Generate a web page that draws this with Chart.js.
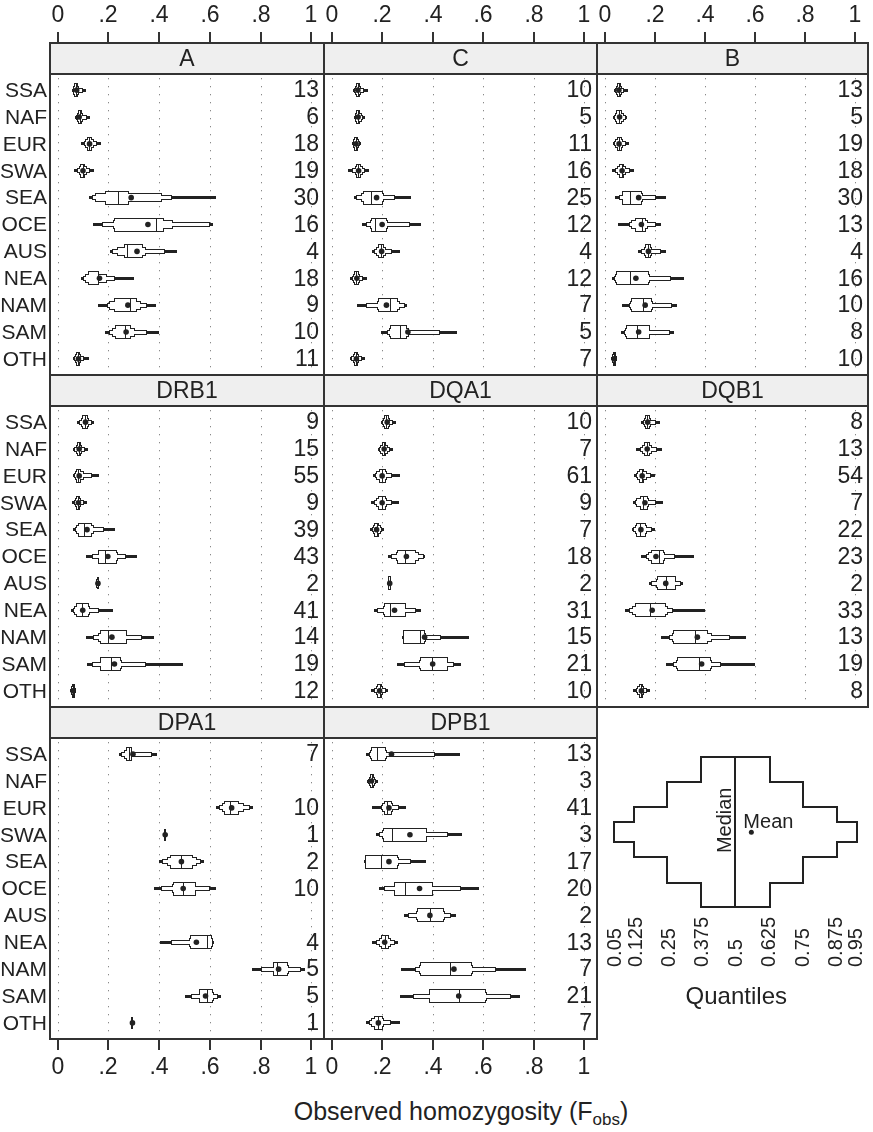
<!DOCTYPE html>
<html>
<head>
<meta charset="utf-8">
<script src="https://cdn.jsdelivr.net/npm/chart.js@4.4.1/dist/chart.umd.min.js"></script>
<style>
  body { margin: 0; background: #fff; }
  #wrap { position: relative; width: 873px; height: 1132px; overflow: hidden; }
  #wrap canvas { position: absolute; left: 0; top: 0; }
  #xtitle {
    position: absolute; left: 211px; width: 500px; top: 1097px;
    text-align: center; font: 25px "Liberation Sans", Arial, sans-serif; color: #222;
  }
  #xtitle sub { font-size: 17px; vertical-align: -5px; }
</style>
</head>
<body>
<div id="wrap">
  <div id="xtitle">Observed homozygosity (F<sub>obs</sub>)</div>
</div>
<script>
// Populations (rows, top to bottom) and x ticks
const pops = ['SSA', 'NAF', 'EUR', 'SWA', 'SEA', 'OCE', 'AUS', 'NEA', 'NAM', 'SAM', 'OTH'];
const xTicks = [0, 0.2, 0.4, 0.6, 0.8, 1];
const xTickLabels = ['0', '.2', '.4', '.6', '.8', '1'];

// each row: quantiles 0.05, 0.125, 0.25, 0.375, 0.5, 0.625, 0.75, 0.875, 0.95
const A_q = [
  [.060, .063, .066, .069, .073, .077, .082, .095, .108],
  [.073, .076, .079, .083, .087, .092, .098, .110, .124],
  [.097, .106, .113, .120, .125, .130, .138, .152, .167],
  [.070, .080, .088, .094, .099, .104, .110, .124, .138],
  [.128, .141, .152, .191, .237, .277, .409, .445, .620],
  [.145, .178, .223, .226, .389, .416, .452, .598, .607],
  [.211, .220, .237, .264, .272, .333, .343, .418, .466],
  [.096, .105, .110, .125, .158, .160, .189, .224, .297],
  [.162, .198, .205, .228, .284, .310, .323, .350, .383],
  [.189, .205, .220, .232, .264, .285, .300, .350, .396],
  [.066, .070, .074, .077, .080, .085, .090, .100, .118]
];
const A_mean = [.075, .085, .126, .100, .290, .356, .313, .165, .277, .270, .082];
const A_n = [13, 6, 18, 19, 30, 16, 4, 18, 9, 10, 11];

const C_q = [
  [.088, .092, .096, .100, .104, .108, .113, .125, .141],
  [.092, .095, .098, .100, .105, .110, .115, .120, .127],
  [.084, .087, .090, .093, .096, .100, .104, .108, .112],
  [.070, .085, .095, .100, .105, .112, .120, .130, .146],
  [.092, .100, .121, .127, .154, .200, .205, .246, .310],
  [.124, .140, .154, .160, .171, .215, .220, .306, .348],
  [.163, .172, .180, .188, .196, .204, .213, .235, .266],
  [.078, .083, .088, .093, .098, .104, .110, .120, .136],
  [.104, .141, .183, .186, .233, .260, .266, .285, .296],
  [.200, .222, .233, .235, .270, .295, .302, .424, .493],
  [.075, .082, .087, .092, .096, .100, .106, .115, .130]
];
const C_mean = [.104, .105, .097, .107, .178, .200, .198, .100, .217, .302, .098];
const C_n = [10, 5, 11, 16, 25, 12, 4, 12, 7, 5, 7];

const B_q = [
  [.040, .045, .050, .053, .057, .062, .066, .075, .088],
  [.037, .040, .045, .050, .058, .066, .074, .080, .086],
  [.036, .042, .047, .052, .058, .064, .070, .080, .092],
  [.033, .045, .055, .062, .068, .075, .082, .098, .112],
  [.046, .060, .073, .075, .100, .145, .149, .200, .242],
  [.057, .100, .110, .125, .150, .162, .170, .200, .220],
  [.139, .150, .160, .165, .175, .180, .185, .220, .242],
  [.033, .040, .045, .050, .100, .175, .178, .260, .313],
  [.073, .100, .106, .110, .152, .185, .190, .264, .284],
  [.069, .082, .086, .090, .130, .176, .178, .255, .271],
  [.030, .032, .034, .036, .038, .040, .042, .044, .046]
];
const B_mean = [.057, .060, .058, .070, .136, .147, .175, .125, .162, .136, .038];
const B_n = [13, 5, 19, 18, 30, 13, 4, 16, 10, 8, 10];

const DRB1_q = [
  [.082, .090, .095, .100, .107, .114, .120, .130, .141],
  [.066, .070, .075, .079, .083, .088, .094, .104, .115],
  [.066, .070, .073, .078, .082, .087, .100, .130, .160],
  [.062, .068, .073, .077, .081, .085, .090, .100, .112],
  [.066, .072, .077, .085, .105, .132, .140, .180, .224],
  [.116, .140, .165, .165, .187, .230, .233, .264, .310],
  [.155, .156, .157, .158, .159, .160, .161, .162, .163],
  [.057, .065, .070, .075, .095, .120, .122, .160, .215],
  [.115, .145, .165, .170, .200, .270, .270, .330, .376],
  [.119, .140, .170, .172, .210, .244, .250, .343, .490],
  [.053, .055, .057, .059, .061, .063, .065, .067, .070]
];
const DRB1_mean = [.110, .085, .085, .082, .116, .198, .159, .099, .214, .224, .061];
const DRB1_n = [9, 15, 55, 9, 39, 43, 2, 41, 14, 19, 12];

const DQA1_q = [
  [.200, .204, .208, .212, .216, .222, .228, .238, .249],
  [.187, .192, .197, .202, .207, .212, .218, .228, .240],
  [.167, .175, .180, .190, .200, .210, .215, .235, .266],
  [.161, .170, .178, .188, .200, .210, .215, .235, .262],
  [.157, .162, .167, .172, .178, .184, .190, .196, .204],
  [.227, .240, .258, .262, .292, .330, .340, .360, .365],
  [.226, .227, .228, .229, .230, .231, .232, .233, .234],
  [.170, .185, .207, .210, .233, .290, .292, .330, .348],
  [.283, .285, .286, .287, .350, .366, .370, .430, .540],
  [.262, .292, .350, .352, .398, .455, .457, .480, .507],
  [.161, .170, .178, .185, .190, .195, .200, .210, .220]
];
const DQA1_mean = [.220, .208, .200, .200, .178, .296, .230, .249, .368, .400, .190];
const DQA1_n = [10, 7, 61, 9, 7, 18, 2, 31, 15, 21, 10];

const DQB1_q = [
  [.148, .156, .162, .167, .170, .176, .180, .200, .218],
  [.128, .145, .155, .160, .170, .178, .185, .205, .225],
  [.123, .130, .135, .140, .148, .155, .165, .180, .198],
  [.119, .125, .130, .145, .155, .170, .175, .200, .229],
  [.112, .118, .125, .130, .140, .160, .165, .185, .198],
  [.148, .170, .176, .190, .218, .232, .236, .275, .353],
  [.182, .190, .210, .212, .244, .280, .280, .300, .310],
  [.086, .100, .115, .125, .180, .240, .250, .270, .396],
  [.229, .260, .272, .276, .360, .410, .425, .495, .561],
  [.247, .275, .290, .292, .376, .420, .423, .460, .594],
  [.119, .128, .135, .140, .145, .150, .155, .165, .176]
];
const DQB1_mean = [.172, .170, .150, .161, .145, .205, .244, .190, .370, .387, .147];
const DQB1_n = [8, 13, 54, 7, 22, 23, 2, 33, 13, 19, 8];

const DPA1_q = [
  [.244, .255, .265, .275, .280, .290, .290, .370, .389],
  null,
  [.627, .640, .650, .660, .680, .710, .730, .755, .768],
  [.424, .424, .424, .424, .424, .424, .424, .424, .424],
  [.402, .416, .436, .445, .488, .530, .545, .560, .574],
  [.383, .410, .455, .458, .495, .540, .542, .595, .620],
  null,
  [.409, .450, .523, .524, .587, .605, .607, .610, .613],
  [.772, .805, .851, .853, .864, .905, .910, .955, .970],
  [.505, .528, .560, .561, .587, .610, .613, .630, .640],
  [.295, .295, .295, .295, .295, .295, .295, .295, .295]
];
const DPA1_mean = [.297, null, .686, .424, .488, .495, null, .547, .871, .583, .295];
const DPA1_n = [7, null, 10, 1, 2, 10, null, 4, 5, 5, 1];

const DPB1_q = [
  [.141, .150, .155, .160, .180, .210, .215, .405, .503],
  [.145, .148, .151, .154, .158, .162, .166, .172, .178],
  [.163, .200, .205, .210, .220, .235, .240, .262, .289],
  [.178, .190, .205, .207, .240, .372, .375, .457, .510],
  [.134, .135, .136, .138, .196, .260, .262, .310, .368],
  [.190, .213, .249, .250, .290, .397, .398, .507, .580],
  [.292, .306, .338, .340, .389, .440, .445, .470, .490],
  [.163, .180, .190, .200, .210, .225, .230, .245, .260],
  [.277, .332, .350, .352, .470, .550, .556, .648, .764],
  [.273, .325, .390, .391, .503, .607, .609, .707, .743],
  [.141, .150, .160, .170, .185, .200, .205, .230, .266]
];
const DPB1_mean = [.237, .158, .227, .310, .227, .348, .389, .210, .484, .503, .185];
const DPB1_n = [13, 3, 41, 3, 17, 20, 2, 13, 7, 21, 7];

// legend key
const legendQuantiles = [0.05, 0.125, 0.25, 0.375, 0.5, 0.625, 0.75, 0.875, 0.95];
const legendLabels = ['0.05', '0.125', '0.25', '0.375', '0.5', '0.625', '0.75', '0.875', '0.95'];
const legendMean = 0.56;

// ---- layout / style ----
const W = 873, H = 1132;
const INK = '#222';
const FONT = '"Liberation Sans", Arial, Helvetica, sans-serif';
const COLS = [[50, 324], [324, 597], [597, 868]];
const STRIP_TOP = [43, 375, 707];
const STRIP_H = 31, PLOT_H = 301;
const BOX_H = [1, 3, 7, 12];          // 0.05-0.95, 0.125-0.875, 0.25-0.75, 0.375-0.625
const LEGEND_H = [18, 48, 99, 148];

const panels = [
  { name: 'A',    q: A_q,    mean: A_mean,    n: A_n,    col: 0, row: 0 },
  { name: 'C',    q: C_q,    mean: C_mean,    n: C_n,    col: 1, row: 0 },
  { name: 'B',    q: B_q,    mean: B_mean,    n: B_n,    col: 2, row: 0 },
  { name: 'DRB1', q: DRB1_q, mean: DRB1_mean, n: DRB1_n, col: 0, row: 1 },
  { name: 'DQA1', q: DQA1_q, mean: DQA1_mean, n: DQA1_n, col: 1, row: 1 },
  { name: 'DQB1', q: DQB1_q, mean: DQB1_mean, n: DQB1_n, col: 2, row: 1 },
  { name: 'DPA1', q: DPA1_q, mean: DPA1_mean, n: DPA1_n, col: 0, row: 2 },
  { name: 'DPB1', q: DPB1_q, mean: DPB1_mean, n: DPB1_n, col: 1, row: 2 }
];

function newCanvas() {
  const c = document.createElement('canvas');
  c.width = W; c.height = H;
  c.style.width = W + 'px'; c.style.height = H + 'px';
  document.getElementById('wrap').appendChild(c);
  return c;
}

// letter-value box: stroke every level wide, then fill white -> only the union outline stays.
// fillFrom = 1 keeps the thin 0.05-0.95 tail solid dark.
function drawLetterBox(ctx, xs, yTop, yBot, q, lw, fillFrom) {
  const rects = [0, 1, 2, 3].map(k => {
    const x0 = Math.round(xs.getPixelForValue(q[k]));
    const x1 = Math.round(xs.getPixelForValue(q[8 - k]));
    const y0 = Math.round(yTop[k]), y1 = Math.round(yBot[k]);
    return [x0, y0, x1 - x0, y1 - y0];
  });
  ctx.strokeStyle = INK;
  ctx.lineWidth = 2 * lw;
  rects.forEach(r => ctx.strokeRect(r[0], r[1], r[2], r[3]));
  ctx.fillStyle = '#fff';
  rects.forEach((r, k) => { if (k >= fillFrom && r[2] > 0) ctx.fillRect(r[0], r[1], r[2], r[3]); });
  const m = Math.round(xs.getPixelForValue(q[4]));
  const t = rects[3];
  ctx.fillStyle = INK;
  ctx.fillRect(m - Math.floor(lw / 2), t[1], lw, t[3]);
}

function panelPlugin(p) {
  const left = COLS[p.col][0], right = COLS[p.col][1];
  const top = STRIP_TOP[p.row];
  return {
    id: 'panel' + p.name,
    beforeDatasetsDraw(chart) {
      const { ctx, chartArea: a, scales: { x, y } } = chart;
      ctx.save();
      // dotted reference lines
      ctx.strokeStyle = '#8a8a8a';
      ctx.lineWidth = 1;
      ctx.setLineDash([1.3, 6.7]);
      xTicks.forEach(v => {
        const px = Math.round(x.getPixelForValue(v)) + 0.5;
        ctx.beginPath(); ctx.moveTo(px, a.top + 4); ctx.lineTo(px, a.bottom); ctx.stroke();
      });
      ctx.setLineDash([]);
      p.q.forEach((q, i) => {
        if (!q) return;
        const yc = y.getPixelForValue(i + 1);
        drawLetterBox(ctx, x, BOX_H.map(h => yc - h / 2), BOX_H.map(h => yc + h / 2), q, 1, 1);
      });
      ctx.restore();
    },
    afterDraw(chart) {
      const { ctx, chartArea: a, scales: { x, y } } = chart;
      ctx.save();
      // strip
      ctx.fillStyle = '#efefef';
      ctx.fillRect(left, top, right - left, STRIP_H);
      ctx.strokeStyle = '#333';
      ctx.lineWidth = 2;
      ctx.strokeRect(left, top, right - left, a.bottom - top);
      ctx.beginPath(); ctx.moveTo(left, a.top); ctx.lineTo(right, a.top); ctx.stroke();
      ctx.fillStyle = INK;
      ctx.font = '23px ' + FONT;
      ctx.textAlign = 'center';
      ctx.textBaseline = 'middle';
      ctx.fillText(p.name, (left + right) / 2, top + STRIP_H / 2 + 1);
      // counts
      ctx.textAlign = 'right';
      p.n.forEach((n, i) => {
        if (n == null) return;
        ctx.fillText(String(n), right - 5, y.getPixelForValue(i + 1) + 1);
      });
      // population labels
      if (p.col === 0) {
        ctx.font = '21px ' + FONT;
        pops.forEach((lab, i) => ctx.fillText(lab, left - 3, y.getPixelForValue(i + 1) + 1));
      }
      // x axes (top row: top, bottom row: bottom)
      ctx.font = '23px ' + FONT;
      ctx.textAlign = 'center';
      ctx.lineWidth = 2;
      ctx.strokeStyle = '#333';
      xTicks.forEach((v, k) => {
        const px = Math.round(x.getPixelForValue(v));
        if (p.row === 0) {
          ctx.beginPath(); ctx.moveTo(px, top); ctx.lineTo(px, top - 11); ctx.stroke();
          ctx.fillText(xTickLabels[k], px, 16);
        }
        if (p.row === 2) {
          ctx.beginPath(); ctx.moveTo(px, a.bottom); ctx.lineTo(px, a.bottom + 11); ctx.stroke();
          ctx.fillText(xTickLabels[k], px, a.bottom + 29);
        }
      });
      ctx.restore();
    }
  };
}

panels.forEach(p => {
  const left = COLS[p.col][0], right = COLS[p.col][1];
  const plotTop = STRIP_TOP[p.row] + STRIP_H;
  new Chart(newCanvas(), {
    type: 'scatter',
    data: {
      datasets: [{
        data: p.mean.map((m, i) => (m == null ? null : { x: m, y: i + 1 })).filter(Boolean),
        pointRadius: 2.8,
        pointHoverRadius: 2.8,
        backgroundColor: INK,
        borderWidth: 0
      }]
    },
    options: {
      responsive: false,
      animation: false,
      devicePixelRatio: 1,
      events: [],
      layout: { padding: { left: left, right: W - right, top: plotTop, bottom: H - plotTop - PLOT_H } },
      plugins: { legend: { display: false }, tooltip: { enabled: false } },
      scales: {
        x: { type: 'linear', min: -0.03, max: 1.05, display: false },
        y: { type: 'linear', min: 0.4, max: 11.6, reverse: true, display: false }
      }
    },
    plugins: [panelPlugin(p)]
  });
});

// ---- key: quantile layout of one box ----
const keyPlugin = {
  id: 'key',
  beforeDatasetsDraw(chart) {
    const { ctx, scales: { x, y } } = chart;
    ctx.save();
    drawLetterBox(ctx, x, LEGEND_H.map(h => y.getPixelForValue(h / 2)),
      LEGEND_H.map(h => y.getPixelForValue(-h / 2)), legendQuantiles, 2, 0);
    ctx.restore();
  },
  afterDraw(chart) {
    const { ctx, scales: { x, y } } = chart;
    ctx.save();
    ctx.fillStyle = INK;
    ctx.font = '20px ' + FONT;
    ctx.textBaseline = 'middle';
    legendQuantiles.forEach((v, k) => {
      ctx.save();
      ctx.translate(x.getPixelForValue(v) + 1, 967);
      ctx.rotate(-Math.PI / 2);
      ctx.textAlign = 'left';
      ctx.fillText(legendLabels[k], 0, 0);
      ctx.restore();
    });
    ctx.save();
    ctx.translate(x.getPixelForValue(0.5) - 10, y.getPixelForValue(0) - 12);
    ctx.rotate(-Math.PI / 2);
    ctx.textAlign = 'center';
    ctx.fillText('Median', 0, 0);
    ctx.restore();
    ctx.textAlign = 'left';
    ctx.fillText('Mean', x.getPixelForValue(legendMean) - 8, y.getPixelForValue(0) - 10);
    ctx.font = '24px ' + FONT;
    ctx.textAlign = 'center';
    ctx.fillText('Quantiles', x.getPixelForValue(0.5) + 1, 997);
    ctx.restore();
  }
};

new Chart(newCanvas(), {
  type: 'scatter',
  data: { datasets: [{ data: [{ x: legendMean, y: 0 }], pointRadius: 2.5, backgroundColor: INK, borderWidth: 0 }] },
  options: {
    responsive: false,
    animation: false,
    devicePixelRatio: 1,
    events: [],
    layout: { padding: { left: 601.6, right: W - 869.4, top: 757.3, bottom: H - 907.3 } },
    plugins: { legend: { display: false }, tooltip: { enabled: false } },
    scales: {
      x: { type: 'linear', min: 0, max: 1, display: false },
      y: { type: 'linear', min: -75, max: 75, display: false }
    }
  },
  plugins: [keyPlugin]
});
</script>
</body>
</html>
